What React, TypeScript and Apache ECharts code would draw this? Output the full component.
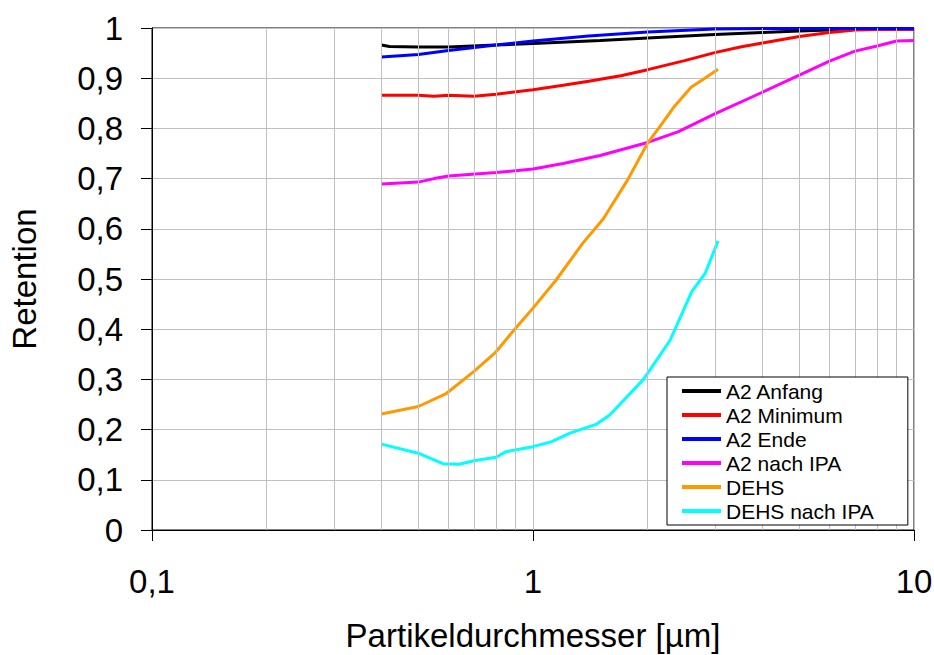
import React, { useEffect, useRef } from "react";
import * as echarts from "echarts";

// Particle diameter [µm] and retention for each measurement series
const anfangX = [0.4, 0.42, 0.5, 0.6, 0.8, 1.0, 1.5, 2.0, 3.0, 4.0, 5.0, 6.0, 7.0, 8.0, 10];
const anfangY = [0.966, 0.963, 0.962, 0.962, 0.966, 0.969, 0.975, 0.98, 0.987, 0.991, 0.994, 0.996, 0.998, 0.998, 0.998];

const minimumX = [0.4, 0.5, 0.55, 0.6, 0.7, 0.8, 1.0, 1.2, 1.4, 1.7, 2.0, 2.5, 3.0, 3.5, 4.0, 5.0, 6.0, 7.0, 8.0, 10];
const minimumY = [0.866, 0.866, 0.864, 0.866, 0.864, 0.868, 0.877, 0.886, 0.894, 0.905, 0.917, 0.935, 0.951, 0.962, 0.97, 0.983, 0.991, 0.996, 0.997, 0.997];

const endeX = [0.4, 0.5, 0.6, 0.8, 1.0, 1.4, 2.0, 3.0, 4.0, 10];
const endeY = [0.942, 0.947, 0.955, 0.966, 0.974, 0.984, 0.992, 0.998, 0.999, 0.999];

const ipaX = [0.4, 0.5, 0.55, 0.6, 0.8, 1.0, 1.2, 1.5, 2.0, 2.4, 3.0, 4.0, 5.0, 6.0, 7.0, 8.0, 9.0, 10];
const ipaY = [0.689, 0.693, 0.7, 0.705, 0.712, 0.719, 0.73, 0.746, 0.772, 0.793, 0.829, 0.872, 0.906, 0.934, 0.954, 0.964, 0.974, 0.975];

const dehsX = [0.4, 0.5, 0.59, 0.7, 0.8, 0.9, 1.0, 1.15, 1.35, 1.53, 1.77, 2.0, 2.15, 2.34, 2.6, 2.8, 3.06];
const dehsY = [0.231, 0.246, 0.271, 0.316, 0.355, 0.402, 0.442, 0.498, 0.571, 0.62, 0.697, 0.771, 0.803, 0.842, 0.882, 0.898, 0.918];

const dehsIpaX = [0.4, 0.5, 0.58, 0.64, 0.7, 0.8, 0.85, 1.0, 1.12, 1.25, 1.47, 1.59, 1.95, 2.29, 2.61, 2.83, 3.06];
const dehsIpaY = [0.171, 0.153, 0.132, 0.131, 0.138, 0.145, 0.156, 0.166, 0.176, 0.193, 0.211, 0.229, 0.3, 0.378, 0.475, 0.511, 0.576];

const seriesNames = ["A2 Anfang", "A2 Minimum", "A2 Ende", "A2 nach IPA", "DEHS", "DEHS nach IPA"];
const seriesColors = ["#000000", "#ff0000", "#0000ff", "#ff00ff", "#ff9900", "#00ffff"];

// Intermediate decade lines of the logarithmic size axis
const minorGridX = [0.2, 0.3, 0.4, 0.5, 0.6, 0.7, 0.8, 0.9, 2, 3, 4, 5, 6, 7, 8, 9];

const FONT = "'Liberation Sans', Arial, sans-serif";

const zip = (xs: number[], ys: number[]) => xs.map((x, i) => [x, ys[i]]);

export default function App() {
  const ref = useRef<HTMLDivElement>(null);

  useEffect(() => {
    if (!ref.current) return;
    const chart = echarts.init(ref.current, undefined, { renderer: "svg" });

    const pairs = [
      zip(anfangX, anfangY),
      zip(minimumX, minimumY),
      zip(endeX, endeY),
      zip(ipaX, ipaY),
      zip(dehsX, dehsY),
      zip(dehsIpaX, dehsIpaY),
    ];

    const lineSeries: any[] = pairs.map((data, i) => ({
      name: seriesNames[i],
      type: "line",
      data,
      showSymbol: false,
      symbol: "none",
      smooth: false,
      lineStyle: { color: seriesColors[i], width: 3 },
      itemStyle: { color: seriesColors[i] },
      z: 3,
    }));

    lineSeries.unshift({
      name: "grid",
      type: "line",
      data: [],
      silent: true,
      z: 1,
      markLine: {
        silent: true,
        symbol: "none",
        label: { show: false },
        lineStyle: { color: "#c0c0c0", width: 1, type: "solid" },
        data: minorGridX.map((v) => ({ xAxis: v })),
      },
    });

    chart.setOption({
      animation: false,
      backgroundColor: "#ffffff",
      textStyle: { fontFamily: FONT },
      grid: {
        left: 152,
        right: 20,
        top: 28,
        bottom: 125,
        outerBoundsMode: "none",
        containLabel: false,
        show: true,
        borderColor: "#000000",
        borderWidth: 1,
        backgroundColor: "transparent",
      },
      legend: {
        orient: "vertical",
        left: 667,
        top: 377,
        data: seriesNames,
        backgroundColor: "#ffffff",
        borderColor: "#000000",
        borderWidth: 1,
        padding: [2, 34, 2, 15],
        itemWidth: 39,
        itemHeight: 4,
        itemGap: 0,
        icon: "rect",
        textStyle: { fontFamily: FONT, fontSize: 21, color: "#000000", lineHeight: 24 },
        itemStyle: { borderWidth: 0 },
        z: 10,
      },
      xAxis: {
        type: "log",
        logBase: 10,
        min: 0.1,
        max: 10,
        name: "Partikeldurchmesser [µm]",
        nameLocation: "middle",
        nameGap: 89,
        nameTextStyle: { fontFamily: FONT, fontSize: 33, color: "#000000" },
        axisLine: { show: true, onZero: false, lineStyle: { color: "#000000", width: 1 } },
        axisTick: { show: true, length: 11, lineStyle: { color: "#000000" } },
        axisLabel: {
          fontFamily: FONT,
          fontSize: 33,
          color: "#000000",
          margin: 35,
          formatter: (v: number) => String(v).replace(".", ","),
        },
        splitLine: { show: true, lineStyle: { color: "#c0c0c0", width: 1 } },
      },
      yAxis: {
        type: "value",
        min: 0,
        max: 1,
        interval: 0.1,
        name: "Retention",
        nameLocation: "middle",
        nameGap: 111,
        nameTextStyle: { fontFamily: FONT, fontSize: 33, color: "#000000" },
        axisLine: { show: true, lineStyle: { color: "#000000", width: 1 } },
        axisTick: { show: true, length: 11, lineStyle: { color: "#000000" } },
        axisLabel: {
          fontFamily: FONT,
          fontSize: 33,
          color: "#000000",
          margin: 29,
          formatter: (v: number) => String(Math.round(v * 10) / 10).replace(".", ","),
        },
        splitLine: { show: true, lineStyle: { color: "#c0c0c0", width: 1 } },
      },
      series: lineSeries,
    });

    return () => chart.dispose();
  }, []);

  return <div ref={ref} style={{ width: 934, height: 655, position: "absolute", left: 0, top: 0 }} />;
}
